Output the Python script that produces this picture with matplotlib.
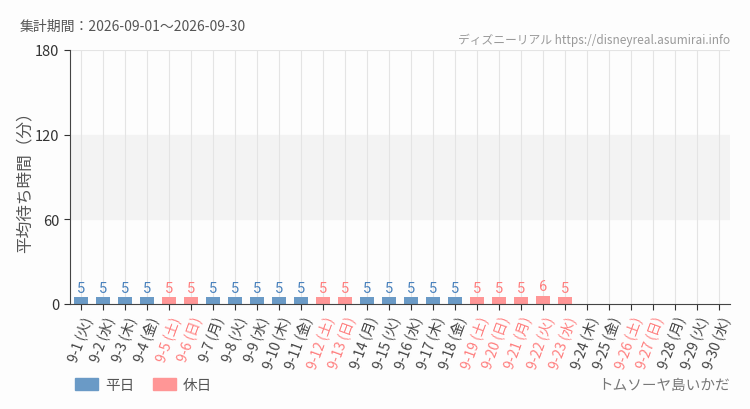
import matplotlib
matplotlib.use('Agg')
import matplotlib.pyplot as plt
from matplotlib.patches import Patch

plt.rcParams['font.family'] = ['Noto Sans CJK JP', 'DejaVu Sans']

days = ['9-%d' % d for d in range(1, 31)]
weekdays = ['火', '水', '木', '金', '土', '日', '月',
            '火', '水', '木', '金', '土', '日', '月',
            '火', '水', '木', '金', '土', '日', '月',
            '火', '水', '木', '金', '土', '日', '月',
            '火', '水']
holidays = ['9-5', '9-6', '9-12', '9-13', '9-19', '9-20', '9-21',
            '9-22', '9-23', '9-26', '9-27']
waits = [5, 5, 5, 5, 5, 5, 5, 5, 5, 5, 5, 5, 5, 5, 5, 5, 5, 5, 5, 5, 5, 6, 5,
         None, None, None, None, None, None, None]

BLUE = '#6a9ac6'
PINK = '#ff9696'
BLUE_TXT = '#4a82bd'
PINK_TXT = '#ff7f7f'

fig = plt.figure(figsize=(7.5, 4.1), dpi=100, facecolor='#fdfdfd')
ax = fig.add_axes([70 / 750, 1 - 305 / 410, 660 / 750, 254 / 410])
ax.set_facecolor('#fdfdfd')

x = list(range(len(days)))
ax.axhspan(60, 120, color='#f3f3f3', zorder=0)
for xi in x:
    ax.axvline(xi, color='#e4e4e4', lw=0.8, zorder=0.5)
ax.axhline(180, color='#e4e4e4', lw=0.8, zorder=0.5)

for xi, d, v in zip(x, days, waits):
    if v is None:
        continue
    hol = d in holidays
    ax.bar(xi, v, width=0.68, color=PINK if hol else BLUE, zorder=2)
    ax.text(xi, v + 1.5, str(v), ha='center', va='bottom', fontsize=10.5,
            color=PINK_TXT if hol else BLUE_TXT,
            family=['Roboto', 'DejaVu Sans'])

ax.set_xlim(-0.5, len(days) - 0.5)
ax.set_ylim(0, 180)
ax.set_yticks([0, 60, 120, 180])
ax.tick_params(axis='y', labelsize=10.5, colors='#333333', length=4)
ax.tick_params(axis='x', length=4, color='#333333')
ax.set_xticks(x)
ax.set_xticklabels(['%s (%s)' % (d, w) for d, w in zip(days, weekdays)],
                   rotation=70, ha='right', va='top', rotation_mode='anchor',
                   fontsize=10)
for lbl, d in zip(ax.get_xticklabels(), days):
    lbl.set_color(PINK_TXT if d in holidays else '#444444')

for s in ['top', 'right']:
    ax.spines[s].set_visible(False)
ax.spines['left'].set_color('#444444')
ax.spines['bottom'].set_color('#444444')

ax.set_ylabel('平均待ち時間（分）', fontsize=12, color='#555555', labelpad=1)

fig.text(20 / 750, 1 - 27 / 410, '集計期間：2026-09-01～2026-09-30',
         fontsize=10, color='#555555', va='center')
fig.text(730 / 750, 1 - 40 / 410, 'ディズニーリアル https://disneyreal.asumirai.info',
         fontsize=8.5, color='#999999', ha='right', va='center')
fig.text(730 / 750, 1 - 386 / 410, 'トムソーヤ島いかだ',
         fontsize=10.5, color='#777777', ha='right', va='center')

handles = [Patch(color=BLUE, label='平日'), Patch(color=PINK, label='休日')]
fig.legend(handles=handles, loc='center left',
           bbox_to_anchor=(62 / 750, 1 - 386 / 410), ncol=2, frameon=False,
           fontsize=10.5, handlelength=1.6, handleheight=0.8,
           handletextpad=0.5, columnspacing=1.2, labelcolor='#555555')

plt.savefig('out.png', facecolor=fig.get_facecolor())
